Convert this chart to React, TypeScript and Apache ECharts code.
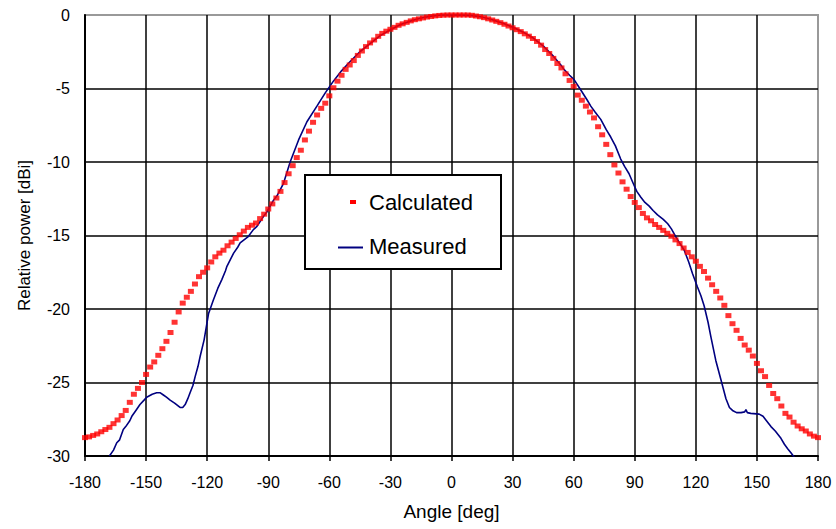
import React, { useEffect, useRef } from "react";
import * as echarts from "echarts";

// Calculated pattern: [angle deg, relative power dBi]
const calculated: [number, number][] = [
  [-180, -28.75], [-178, -28.7], [-176, -28.6], [-174, -28.5], [-172, -28.35], [-170, -28.2],
  [-168, -28.05], [-166, -27.8], [-164, -27.55], [-162, -27.25], [-160, -26.9], [-158, -26.35],
  [-156, -25.8], [-154, -25.4], [-152, -25.0], [-150, -24.45], [-148, -23.95], [-146, -23.6],
  [-144, -23.15], [-142, -22.7], [-140, -22.2], [-138, -21.6], [-136, -20.9], [-134, -20.2],
  [-132, -19.6], [-130, -19.2], [-128, -18.8], [-126, -18.3], [-124, -17.8], [-122, -17.5],
  [-120, -17.2], [-118, -16.8], [-116, -16.45], [-114, -16.2], [-112, -16.0], [-110, -15.7],
  [-108, -15.45], [-106, -15.2], [-104, -14.95], [-102, -14.7], [-100, -14.45], [-98, -14.3],
  [-96, -14.15], [-94, -13.85], [-92, -13.55], [-90, -13.2], [-88, -12.85], [-86, -12.45],
  [-84, -12.0], [-82, -11.4], [-80, -10.8], [-78, -10.25], [-76, -9.7], [-74, -9.2],
  [-72, -8.5], [-70, -7.9], [-68, -7.3], [-66, -6.8], [-64, -6.35], [-62, -6.0],
  [-60, -5.5], [-58, -4.95], [-56, -4.5], [-54, -4.1], [-52, -3.7], [-50, -3.4],
  [-48, -3.1], [-46, -2.75], [-44, -2.45], [-42, -2.15], [-40, -1.9], [-38, -1.7],
  [-36, -1.45], [-34, -1.25], [-32, -1.1], [-30, -0.97], [-28, -0.84], [-26, -0.7],
  [-24, -0.6], [-22, -0.5], [-20, -0.4], [-18, -0.32], [-16, -0.26], [-14, -0.2],
  [-12, -0.14], [-10, -0.1], [-8, -0.06], [-6, -0.03], [-4, -0.01], [-2, 0],
  [0, 0], [2, 0], [4, 0], [6, 0], [8, 0], [10, -0.02],
  [12, -0.07], [14, -0.12], [16, -0.18], [18, -0.26], [20, -0.34], [22, -0.43],
  [24, -0.52], [26, -0.63], [28, -0.75], [30, -0.87], [32, -1.0], [34, -1.13],
  [36, -1.28], [38, -1.44], [40, -1.6], [42, -1.8], [44, -2.05], [46, -2.35],
  [48, -2.62], [50, -2.95], [52, -3.3], [54, -3.6], [56, -4.0], [58, -4.45],
  [60, -4.85], [62, -5.45], [64, -5.8], [66, -6.2], [68, -6.6], [70, -7.0],
  [72, -7.6], [74, -8.15], [76, -8.8], [78, -9.5], [80, -10.2], [82, -10.75],
  [84, -11.35], [86, -11.85], [88, -12.35], [90, -12.75], [92, -13.1], [94, -13.5],
  [96, -13.8], [98, -14.0], [100, -14.25], [102, -14.45], [104, -14.65], [106, -14.85],
  [108, -15.05], [110, -15.3], [112, -15.55], [114, -15.85], [116, -16.15], [118, -16.45],
  [120, -16.75], [122, -17.1], [124, -17.45], [126, -17.9], [128, -18.35], [130, -18.8],
  [132, -19.25], [134, -19.75], [136, -20.45], [138, -21.0], [140, -21.45], [142, -22.0],
  [144, -22.45], [146, -22.8], [148, -23.2], [150, -23.7], [152, -24.2], [154, -24.6],
  [156, -25.2], [158, -25.75], [160, -26.1], [162, -26.6], [164, -27.1], [166, -27.35],
  [168, -27.7], [170, -27.96], [172, -28.15], [174, -28.3], [176, -28.5], [178, -28.65],
  [180, -28.75],
];

// Measured pattern: [angle deg, relative power dBi]
const measured: [number, number][] = [
  [-168, -30.0], [-166, -29.6], [-164.4, -29.1], [-163, -28.9], [-161.2, -28.2], [-160, -28.0],
  [-158, -27.6], [-157, -27.3], [-155, -26.9], [-153, -26.5], [-151, -26.2], [-149.7, -26.0],
  [-147, -25.8], [-144.8, -25.7], [-143, -25.7], [-141.5, -25.85], [-140, -26.0], [-138.2, -26.2],
  [-136, -26.4], [-133.3, -26.7], [-132, -26.7], [-130.8, -26.5], [-129.5, -26.1], [-128.4, -25.7],
  [-127, -25.2], [-125.9, -24.6], [-124.5, -23.9], [-123.4, -23.2], [-121.5, -22.1], [-119.3, -20.3],
  [-117, -19.4], [-114.8, -18.6], [-112.8, -18.0], [-111, -17.4], [-110.3, -17.1], [-108.5, -16.6],
  [-107, -16.2], [-105, -15.8], [-103.8, -15.5], [-100, -15.1], [-97.3, -14.6], [-95.7, -14.4],
  [-92.3, -13.7], [-90.7, -13.4], [-87.4, -12.6], [-85.7, -12.3], [-82.5, -11.45], [-79.2, -9.98],
  [-75.1, -8.5], [-71, -7.26], [-66.1, -6.2], [-62, -5.3], [-58, -4.5], [-54, -3.8],
  [-50, -3.2], [-45, -2.5], [-40, -1.95], [-35, -1.4], [-30, -1.0], [-25, -0.65],
  [-20, -0.4], [-15, -0.2], [-10, -0.08], [-5, 0], [0, 0], [5, 0],
  [10, -0.04], [15, -0.14], [20, -0.32], [25, -0.55], [30, -0.82], [35, -1.15],
  [40, -1.55], [45, -2.1], [50, -2.8], [53.7, -3.4], [55.2, -3.7], [58, -4.1],
  [60.2, -4.4], [63.5, -5.1], [66.7, -5.8], [68.4, -6.2], [70.5, -6.6], [73.3, -7.1],
  [76, -7.8], [78.2, -8.3], [80.5, -8.9], [83.1, -9.8], [85, -10.3], [87.2, -10.8],
  [89.7, -11.6], [91, -12.0], [93, -12.4], [95, -12.75], [97.1, -13.0], [99, -13.3],
  [101.2, -13.6], [104, -13.9], [106.2, -14.2], [108, -14.55], [110.2, -15.1], [112, -15.5],
  [114.3, -16.0], [116.5, -16.8], [118.4, -17.6], [120.8, -18.5], [122.5, -19.1], [124.1, -19.8],
  [126, -20.9], [127.4, -21.9], [129.8, -23.5], [132.3, -24.8], [134.8, -26.1], [136.5, -26.7],
  [138, -26.9], [140, -27.05], [142.2, -27.05], [144, -27.0], [144.6, -26.85], [145.3, -27.05],
  [147, -27.1], [151.1, -27.15], [153, -27.3], [154.4, -27.55], [156.9, -28.0], [159, -28.3],
  [161.8, -28.8], [163.5, -29.2], [165.1, -29.5], [166.8, -29.8], [168.4, -30.1],
];

const seriesNames = ["Calculated", "Measured"];
const xTitle = "Angle [deg]";
const yTitle = "Relative power [dBi]";

const FONT = "'Liberation Sans', Arial, sans-serif";

export default function App() {
  const ref = useRef<HTMLDivElement>(null);
  useEffect(() => {
    if (!ref.current) return;
    const chart = echarts.init(ref.current, undefined, { renderer: "svg" });
    chart.setOption({
      animation: false,
      backgroundColor: "#ffffff",
      textStyle: { fontFamily: FONT, color: "#000" },
      grid: {
        left: 85,
        right: 18,
        top: 15,
        bottom: 73,
        show: true,
        borderColor: "#999999",
        borderWidth: 2,
        backgroundColor: "#ffffff",
      },
      xAxis: {
        type: "value",
        min: -180,
        max: 180,
        interval: 30,
        name: xTitle,
        nameLocation: "middle",
        nameGap: 46,
        nameTextStyle: { fontSize: 19, color: "#000", fontFamily: FONT },
        axisLine: { show: true, onZero: false, lineStyle: { color: "#000", width: 2 } },
        axisTick: { show: true, inside: false, length: 5, lineStyle: { color: "#000", width: 1.5 } },
        axisLabel: { fontSize: 16, color: "#000", margin: 18, fontFamily: FONT },
        splitLine: { show: true, showMinLine: false, showMaxLine: false, lineStyle: { color: "#000", width: 1.5 } },
      },
      yAxis: {
        type: "value",
        min: -30,
        max: 0,
        interval: 5,
        name: yTitle,
        nameLocation: "middle",
        nameGap: 52,
        nameRotate: 90,
        nameTextStyle: { fontSize: 17, color: "#000", fontFamily: FONT },
        axisLine: { show: true, onZero: false, lineStyle: { color: "#000", width: 2 } },
        axisTick: { show: false },
        axisLabel: { fontSize: 16, color: "#000", margin: 15, fontFamily: FONT },
        splitLine: { show: true, showMinLine: false, showMaxLine: false, lineStyle: { color: "#000", width: 1.5 } },
      },
      series: [
        {
          name: seriesNames[1],
          type: "line",
          data: measured,
          showSymbol: false,
          symbol: "none",
          lineStyle: { color: "#000080", width: 1.6 },
          itemStyle: { color: "#000080" },
          z: 2,
        },
        {
          name: seriesNames[0],
          type: "scatter",
          data: calculated,
          symbol: "rect",
          symbolSize: [6, 5],
          itemStyle: { color: "#ff0000" },
          z: 3,
        },
      ],
      graphic: [
        {
          type: "rect",
          shape: { x: 305, y: 175, width: 196, height: 94 },
          style: { fill: "#ffffff", stroke: "#000", lineWidth: 2 },
          z: 10,
        },
        {
          type: "rect",
          shape: { x: 350, y: 200, width: 6, height: 4 },
          style: { fill: "#ff0000" },
          z: 11,
        },
        {
          type: "text",
          x: 369,
          y: 202,
          style: { text: seriesNames[0], fontSize: 22, fontFamily: FONT, fill: "#000", verticalAlign: "middle", align: "left" },
          z: 11,
        },
        {
          type: "line",
          shape: { x1: 338, y1: 247.5, x2: 363, y2: 247.5 },
          style: { stroke: "#000080", lineWidth: 2 },
          z: 11,
        },
        {
          type: "text",
          x: 369,
          y: 246,
          style: { text: seriesNames[1], fontSize: 22, fontFamily: FONT, fill: "#000", verticalAlign: "middle", align: "left" },
          z: 11,
        },
      ],
    });
    return () => chart.dispose();
  }, []);
  return (
    <div
      ref={ref}
      style={{ position: "fixed", left: 0, top: 0, width: 836, height: 529, background: "#fff" }}
    />
  );
}
